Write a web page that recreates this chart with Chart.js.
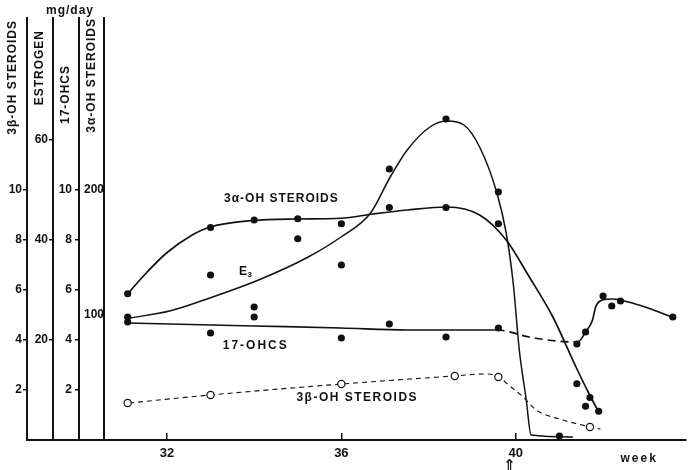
<!DOCTYPE html>
<html>
<head>
<meta charset="utf-8">
<script src="https://cdn.jsdelivr.net/npm/chart.js@4.4.1/dist/chart.umd.min.js"></script>
<style>
  html, body { margin: 0; padding: 0; background: #fff; }
  #wrap { width: 691px; height: 470px; }
</style>
</head>
<body>
<div id="wrap"><canvas id="c"></canvas></div>
<script>
// Urinary steroid excretion (mg/day) across the last weeks of pregnancy

// x axis
const weekTicks = [32, 36, 40];

// 3α-OH steroids: measurements and fitted curve
const alphaWeeks  = [31.1, 33.0, 34.0, 35.0, 35.0, 36.0, 37.1, 38.4, 39.6, 41.4, 41.6, 41.7, 41.9];
const alphaValues = [117, 170, 176, 177, 161, 173, 186, 186, 173, 45, 27, 34, 23];
const alphaCurveWeeks  = [31.10, 31.44, 31.99, 32.58, 32.99, 33.97, 34.97, 35.99, 36.72, 37.51, 38.42, 39.17, 39.78, 40.31, 40.85, 41.38, 41.67, 41.90];
const alphaCurveValues = [116.8, 130.4, 149.6, 164.0, 170.4, 175.6, 176.8, 177.4, 180.8, 184.0, 186.4, 180.0, 160.0, 130.4, 98.4, 58.4, 37.6, 22.4];

// Estrogen (E3): measurements and fitted curve
const estriolWeeks  = [31.1, 33.0, 34.0, 36.0, 37.1, 38.4, 39.6, 41.0];
const estriolValues = [24.6, 33.0, 26.6, 35.0, 54.2, 64.2, 49.6, 0.8];
const estriolCurveWeeks  = [31.15, 32.06, 32.85, 34.10, 35.24, 35.99, 36.67, 37.12, 37.51, 38.03, 38.42, 38.81, 39.17, 39.56, 39.78, 39.94, 40.08, 40.24, 40.35, 41.31];
const estriolCurveValues = [24.4, 25.8, 28.0, 32.0, 36.6, 40.6, 45.4, 52.6, 58.0, 62.6, 63.8, 63.0, 58.6, 49.6, 41.4, 31.4, 18.0, 8.0, 1.0, 0.6];

// 17-OHCS: measurements and fitted curve (dashed between nodes 4 and 7)
const ohcsWeeks  = [31.1, 33.0, 34.0, 36.0, 37.1, 38.4, 39.6, 41.4, 41.6, 42.0, 42.2, 42.4, 43.6];
const ohcsValues = [4.72, 4.28, 4.92, 4.08, 4.64, 4.12, 4.48, 3.84, 4.32, 5.76, 5.36, 5.56, 4.92];
const ohcsCurveWeeks  = [31.10, 33.99, 35.99, 37.51, 39.56, 40.31, 40.92, 41.42, 41.60, 41.76, 41.83, 41.99, 42.22, 42.58, 43.03, 43.58];
const ohcsCurveValues = [4.68, 4.56, 4.48, 4.40, 4.40, 4.12, 3.96, 3.92, 4.32, 4.80, 5.32, 5.60, 5.64, 5.52, 5.28, 4.92];

// 3β-OH steroids: measurements and fitted curve
const betaWeeks  = [31.1, 33.0, 36.0, 38.6, 39.6, 41.7];
const betaValues = [1.48, 1.80, 2.24, 2.56, 2.52, 0.52];
const betaCurveWeeks  = [31.13, 32.99, 36.01, 38.58, 39.26, 39.63, 39.78, 40.17, 40.47, 41.08, 41.72, 41.94];
const betaCurveValues = [1.48, 1.80, 2.24, 2.56, 2.64, 2.52, 2.28, 1.72, 1.20, 0.80, 0.52, 0.44];

// tick labels of the four side axes
const betaTicks  = [2, 4, 6, 8, 10];
const estroTicks = [20, 40, 60];
const ohcsTicks  = [2, 4, 6, 8, 10];
const alphaTicks = [100, 200];

const INK = '#111';
const FONT = 'Liberation Sans, Arial, sans-serif';

const pts = (w, v) => w.map((x, i) => ({ x, y: v[i] }));

const curve = (w, v, axis, extra) => Object.assign({
  data: pts(w, v), yAxisID: axis,
  borderColor: INK, borderWidth: 1.7, pointRadius: 0, fill: false,
  cubicInterpolationMode: 'monotone', order: 2
}, extra || {});

const dots = (w, v, axis, open) => ({
  data: pts(w, v), yAxisID: axis, showLine: false,
  pointRadius: 3.6, pointBorderWidth: open ? 1.2 : 0,
  pointBackgroundColor: open ? '#fff' : INK, pointBorderColor: INK,
  order: 1
});

function sideAxis(min, max, ticks, width, weight, tickLen, pad) {
  return {
    type: 'linear', position: 'left', min, max, weight,
    afterBuildTicks: s => { s.ticks = ticks.map(v => ({ value: v })); },
    afterFit: s => { s.width = width; },
    border: { display: true, color: INK, width: 2 },
    grid: { drawOnChartArea: false, color: INK, lineWidth: 1.5, tickLength: tickLen },
    ticks: { color: INK, padding: pad, font: { family: FONT, size: 12, weight: 'bold' } }
  };
}

// axis titles, captions and marks drawn on top of the plot
const annotate = {
  id: 'annotate',
  afterDraw(chart) {
    const { ctx, chartArea, scales } = chart;
    const { x, yB, yE, yO, yA } = scales;
    ctx.save();
    ctx.fillStyle = INK;
    ctx.strokeStyle = INK;

    // baseline continues under the axis strip
    ctx.lineWidth = 2;
    ctx.beginPath();
    ctx.moveTo(yB.right - 1, Math.round(x.top));
    ctx.lineTo(chartArea.left, Math.round(x.top));
    ctx.stroke();

    // rotated axis titles
    ctx.font = 'bold 12px ' + FONT;
    ctx.letterSpacing = '1px';
    ctx.textAlign = 'right';
    ctx.textBaseline = 'middle';
    [[yB, '3β-OH STEROIDS', 2], [yE, 'ESTROGEN', 12], [yO, '17-OHCS', 47], [yA, '3α-OH STEROIDS', 0]]
      .forEach(([s, t, dy]) => {
        ctx.save();
        ctx.translate(s.left + 13, chartArea.top + dy);
        ctx.rotate(-Math.PI / 2);
        ctx.fillText(t, 0, 0);
        ctx.restore();
      });

    // unit above the axes
    ctx.textAlign = 'center';
    ctx.fillText('mg/day', yO.left + 17, chartArea.top - 7);

    // curve captions
    ctx.textAlign = 'left';
    ctx.fillText('3α-OH STEROIDS', x.getPixelForValue(33.31), yA.getPixelForValue(192.8));
    ctx.letterSpacing = '2px';
    ctx.fillText('17-OHCS', x.getPixelForValue(33.28), yO.getPixelForValue(3.76));
    ctx.letterSpacing = '1.5px';
    ctx.fillText('3β-OH STEROIDS', x.getPixelForValue(34.97), yB.getPixelForValue(1.68));
    ctx.letterSpacing = '0px';
    const ex = x.getPixelForValue(33.65), ey = yE.getPixelForValue(33.6);
    ctx.fillText('E', ex, ey);
    const ew = ctx.measureText('E').width;
    ctx.font = 'bold 8px ' + FONT;
    ctx.fillText('3', ex + ew + 0.5, ey + 3);

    // x-axis unit and delivery arrow
    ctx.font = 'bold 12px ' + FONT;
    ctx.letterSpacing = '2px';
    ctx.fillText('week', x.getPixelForValue(42.40), x.top + 19);
    ctx.letterSpacing = '0px';
    ctx.textAlign = 'center';
    ctx.font = 'bold 15px DejaVu Sans, sans-serif';
    ctx.fillText('⇑', x.getPixelForValue(39.85), x.top + 26);
    ctx.restore();
  }
};

new Chart(document.getElementById('c'), {
  type: 'line',
  data: {
    datasets: [
      curve(alphaCurveWeeks, alphaCurveValues, 'yA'),
      curve(estriolCurveWeeks, estriolCurveValues, 'yE', { borderWidth: 1.5 }),
      curve(ohcsCurveWeeks, ohcsCurveValues, 'yO', {
        segment: { borderDash: c => (c.p0DataIndex >= 4 && c.p0DataIndex < 7) ? [8, 5] : [] }
      }),
      curve(betaCurveWeeks, betaCurveValues, 'yB', { borderWidth: 1.1, borderDash: [5, 4] }),
      dots(alphaWeeks, alphaValues, 'yA', false),
      dots(estriolWeeks, estriolValues, 'yE', false),
      dots(ohcsWeeks, ohcsValues, 'yO', false),
      dots(betaWeeks, betaValues, 'yB', true)
    ]
  },
  options: {
    responsive: true,
    maintainAspectRatio: false,
    animation: false,
    layout: { padding: { top: 18, left: 0, right: 0, bottom: 0 } },
    plugins: { legend: { display: false }, tooltip: { enabled: false } },
    scales: {
      x: {
        type: 'linear', min: 30.557, max: 43.898,
        afterBuildTicks: s => { s.ticks = weekTicks.map(v => ({ value: v })); },
        afterFit: s => { s.height = 30; },
        border: { display: true, color: INK, width: 2 },
        grid: { drawOnChartArea: false, color: INK, lineWidth: 1.5, tickLength: -7 },
        ticks: { color: INK, padding: 13, maxRotation: 0, autoSkip: false,
                 font: { family: FONT, size: 13, weight: 'bold' } }
      },
      yB: sideAxis(0, 16.88, betaTicks, 27, 4, 4, 1),
      yE: sideAxis(0, 84.4, estroTicks, 26, 3, 4, 1),
      yO: sideAxis(0, 16.88, ohcsTicks, 26, 2, 4, 3),
      yA: sideAxis(0, 337.6, alphaTicks, 25, 1, 3, -3)
    }
  },
  plugins: [annotate]
});
</script>
</body>
</html>
